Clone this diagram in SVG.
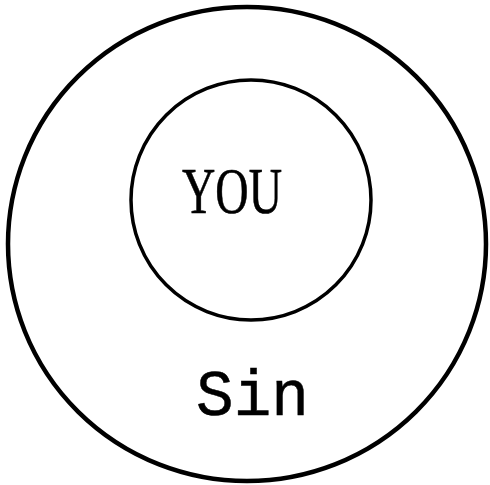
<svg xmlns="http://www.w3.org/2000/svg" width="490" height="485" viewBox="0 0 490 485">
<style>
.ring{fill:none;stroke:#000}
.lbl{fill:#000}
</style>
<rect width="490" height="485" fill="#fff"/>
<g id="sin">
<ellipse class="ring" cx="247" cy="244" rx="239" ry="237" stroke-width="4.5"/>
<text class="lbl" x="196" y="415" font-family="Liberation Mono, Courier New, monospace" font-size="64" stroke="#000" stroke-width="0.5" textLength="113" lengthAdjust="spacingAndGlyphs">Sin</text>
</g>
<g id="you">
<circle class="ring" cx="251" cy="200" r="120" stroke-width="3.5"/>
<text class="lbl" x="182" y="213" font-family="Liberation Serif, Times New Roman, serif" font-size="65" stroke="#000" stroke-width="0.6" textLength="100" lengthAdjust="spacingAndGlyphs">YOU</text>
</g>
<g id="connectors"/>
</svg>
